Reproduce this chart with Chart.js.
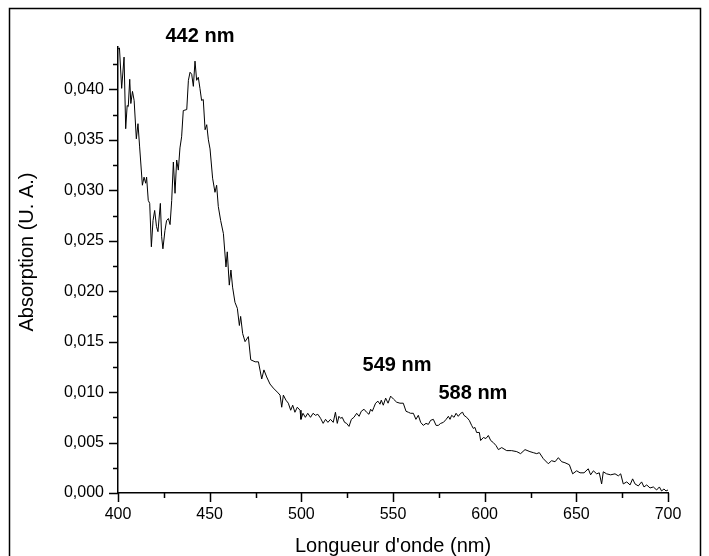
<!DOCTYPE html>
<html>
<head>
<meta charset="utf-8">
<script src="https://cdn.jsdelivr.net/npm/chart.js@4.4.0/dist/chart.umd.min.js"></script>
<style>
  html, body { margin: 0; padding: 0; background: #fff; }
  canvas { display: block; }
</style>
</head>
<body>
<canvas id="spectre" width="709" height="556"></canvas>
<script>
const wavelength = [
  400, 400.8, 402, 403.3, 404.2, 405, 405.6, 406.4, 407, 407.9, 408.8, 410, 410.9, 411.8,
  413.3, 414.2, 415.1, 415.6, 416.5, 417.3, 418.2, 419.1, 420, 421, 421.8, 423.1, 423.8,
  424.5, 425.6, 426.5, 427.5, 428.4, 429.3, 430.2, 431.1, 432, 432.9, 433.8, 434.7, 435.6,
  437.5, 438.4, 439.3, 440.2, 441.1, 442, 442.9, 443.8, 444.7, 445.6, 446.5, 447.5, 448.4,
  449.3, 450.2, 451.6, 452.9, 453.8, 454.7, 456, 457.5, 458.9, 459.6, 460.7, 461.6, 462.5,
  463.8, 465.1, 466.2, 466.9, 468, 469.3, 471.1, 472.4, 474.8, 476.6, 478.4, 479.6, 481.1,
  482.9, 484.7, 486.9, 488.4, 489.3, 490.2, 491.6, 492.9, 494.2, 495.3, 496.5, 497.8, 499.3,
  499.8, 500.9, 502.2, 503.5, 505, 506.4, 507.7, 509, 510.5, 511.9, 513.2, 514.5, 515.9,
  517.4, 518.6, 519.6, 520.5, 521.4, 522.3, 523.6, 524.7, 526, 527.3, 528.7, 530.2, 531.5,
  532.7, 534.2, 535.6, 536.9, 537.8, 538.7, 539.6, 540.5, 541.8, 542.9, 543.6, 544.7, 546,
  547.3, 548.7, 550.3, 552, 553.8, 555.6, 557.1, 558.4, 559.6, 561.1, 562.5, 563.8, 565.1,
  566.5, 568, 569.3, 570.5, 572, 573.5, 574.7, 576, 577.5, 579, 580.2, 581.1, 582, 583.3,
  584.4, 585.6, 586.9, 588, 588.7, 590.2, 591.6, 592.9, 593.8, 594.7, 595.6, 597.1, 597.8,
  599.3, 600.7, 602, 603.3, 604.7, 606.2, 607.5, 609.3, 612, 614.7, 617.5, 619.6, 622,
  624.7, 626.5, 628.4, 629.8, 632, 634.7, 636.5, 638.4, 640.2, 642, 643.8, 646.2, 648,
  650.2, 652, 654.2, 656.5, 657.8, 659.3, 661.1, 662.5, 663.8, 664.7, 666.5, 668.7, 671.1,
  672.9, 674.2, 675.6, 677.5, 679.3, 680.7, 682, 683.8, 685.6, 686.9, 688.4, 690.2, 692,
  693.8, 695.3, 696.5, 697.8, 698.9, 700
];
const absorption = [
  0.0440, 0.0441, 0.0401, 0.0432, 0.0361, 0.0384, 0.0383, 0.0410, 0.0386, 0.0398, 0.0389, 0.0351, 0.0366, 0.0343,
  0.0305, 0.0313, 0.0307, 0.0313, 0.0290, 0.0287, 0.0244, 0.0270, 0.0280, 0.0264, 0.0259, 0.0287, 0.0254,
  0.0242, 0.0260, 0.0270, 0.0272, 0.0266, 0.0290, 0.0328, 0.0297, 0.0330, 0.0320, 0.0342, 0.0353, 0.0379,
  0.0380, 0.0409, 0.0417, 0.0415, 0.0403, 0.0428, 0.0409, 0.0412, 0.0401, 0.0389, 0.0390, 0.0360, 0.0365,
  0.0350, 0.0341, 0.0312, 0.0298, 0.0305, 0.0284, 0.0270, 0.0257, 0.0224, 0.0239, 0.0206, 0.0221, 0.0204,
  0.0189, 0.0183, 0.0166, 0.0175, 0.0158, 0.0150, 0.0155, 0.0132, 0.0130, 0.0130, 0.0113, 0.0122, 0.0115,
  0.0108, 0.0104, 0.0100, 0.0097, 0.0085, 0.0097, 0.0092, 0.0089, 0.0082, 0.0087, 0.0080, 0.0085, 0.0082,
  0.0073, 0.0079, 0.0075, 0.0079, 0.0075, 0.0079, 0.0077, 0.0078, 0.0074, 0.0069, 0.0073, 0.0070, 0.0073,
  0.0070, 0.0080, 0.0069, 0.0076, 0.0074, 0.0075, 0.0070, 0.0069, 0.0066, 0.0073, 0.0075, 0.0079, 0.0076,
  0.0081, 0.0083, 0.0080, 0.0078, 0.0083, 0.0081, 0.0085, 0.0089, 0.0091, 0.0088, 0.0092, 0.0087, 0.0094,
  0.0089, 0.0096, 0.0093, 0.0090, 0.0089, 0.0089, 0.0081, 0.0080, 0.0079, 0.0079, 0.0073, 0.0077, 0.0070,
  0.0067, 0.0069, 0.0068, 0.0072, 0.0073, 0.0067, 0.0067, 0.0069, 0.0070, 0.0073, 0.0076, 0.0073, 0.0077, 0.0075,
  0.0079, 0.0076, 0.0079, 0.0080, 0.0077, 0.0075, 0.0072, 0.0067, 0.0064, 0.0065, 0.0060, 0.0060, 0.0052,
  0.0055, 0.0054, 0.0057, 0.0052, 0.0050, 0.0047, 0.0043, 0.0045, 0.0042, 0.0042, 0.0041, 0.0039, 0.0043,
  0.0041, 0.0040, 0.0039, 0.0040, 0.0034, 0.0029, 0.0032, 0.0031, 0.0035, 0.0031, 0.0030, 0.0028, 0.0019,
  0.0022, 0.0020, 0.0020, 0.0024, 0.0018, 0.0022, 0.0019, 0.0020, 0.0009, 0.0021, 0.0019, 0.0018, 0.0019,
  0.0017, 0.0019, 0.0009, 0.0011, 0.0008, 0.0014, 0.0009, 0.0007, 0.0011, 0.0006, 0.0008, 0.0005, 0.0006,
  0.0003, 0.0006, 0.0002, 0.0004, 0.0002, 0.0003
];

// Étiquettes des pics
const peakLabels = ['442 nm', '549 nm', '588 nm'];
const peakX = [444.7, 552.2, 593.6];
const peakY = [0.0452, 0.01267, 0.00989];

const FONT = '"Liberation Sans", Arial, sans-serif';

const frameAndTicks = {
  id: 'frameAndTicks',
  afterDraw(chart) {
    const ctx = chart.ctx;
    const xs = chart.scales.x;
    const ys = chart.scales.y;
    const area = chart.chartArea;
    ctx.save();
    // cadre extérieur
    ctx.strokeStyle = '#000';
    ctx.lineWidth = 1.5;
    ctx.strokeRect(9.5, 8.5, 691, 600);

    // graduations
    ctx.lineWidth = 1.5;
    ctx.beginPath();
    xs.ticks.forEach(t => {
      const px = Math.round(xs.getPixelForValue(t.value)) + 0.5;
      const len = t.value % 50 === 0 ? 9 : 5;
      ctx.moveTo(px, area.bottom);
      ctx.lineTo(px, area.bottom + len);
    });
    ys.ticks.forEach(t => {
      const py = Math.round(ys.getPixelForValue(t.value)) + 0.5;
      const k = Math.round(t.value / 0.0025);
      const len = k % 2 === 0 ? 9 : 5;
      ctx.moveTo(area.left, py);
      ctx.lineTo(area.left - len, py);
    });
    ctx.stroke();

    // étiquettes des pics
    ctx.fillStyle = '#000';
    ctx.font = 'bold 20px ' + FONT;
    ctx.textAlign = 'center';
    ctx.textBaseline = 'middle';
    peakLabels.forEach((txt, i) => {
      ctx.fillText(txt, xs.getPixelForValue(peakX[i]), ys.getPixelForValue(peakY[i]));
    });

    // titre de l'axe Y
    ctx.font = '20px ' + FONT;
    ctx.translate(27, 252);
    ctx.rotate(-Math.PI / 2);
    ctx.fillText('Absorption (U. A.)', 0, 0);
    ctx.restore();
  }
};

new Chart(document.getElementById('spectre'), {
  type: 'line',
  data: {
    datasets: [{
      data: wavelength.map((w, i) => ({ x: w, y: absorption[i] })),
      borderColor: '#000',
      borderWidth: 1,
      pointRadius: 0,
      tension: 0,
      fill: false
    }]
  },
  options: {
    responsive: false,
    animation: false,
    layout: { padding: { top: 47, right: 41, left: 0, bottom: 0 } },
    plugins: { legend: { display: false }, tooltip: { enabled: false } },
    scales: {
      x: {
        type: 'linear',
        min: 400,
        max: 700,
        afterFit: s => { s.height = 63; },
        border: { color: '#000', width: 1.5 },
        grid: { drawOnChartArea: false, tickLength: 9, tickColor: 'rgba(0,0,0,0)' },
        ticks: {
          stepSize: 25,
          autoSkip: false,
          maxRotation: 0,
          padding: 3,
          color: '#000',
          font: { family: FONT, size: 16 },
          callback: v => (v % 50 === 0 ? String(v) : '')
        },
        title: {
          display: true,
          text: "Longueur d'onde (nm)",
          color: '#000',
          font: { family: FONT, size: 20, lineHeight: 1 },
          padding: { top: 0, bottom: 0 }
        }
      },
      y: {
        min: 0,
        max: 0.0442,
        afterFit: s => { s.width = 118; },
        border: { color: '#000', width: 1.5 },
        grid: { drawOnChartArea: false, tickLength: 9, tickColor: 'rgba(0,0,0,0)' },
        ticks: {
          stepSize: 0.0025,
          includeBounds: false,
          autoSkip: false,
          padding: 5,
          color: '#000',
          font: { family: FONT, size: 16 },
          callback: v => {
            const k = Math.round(v / 0.0025);
            return k % 2 === 0 ? (k * 0.0025).toFixed(3).replace('.', ',') : '';
          }
        }
      }
    }
  },
  plugins: [frameAndTicks]
});
</script>
</body>
</html>
